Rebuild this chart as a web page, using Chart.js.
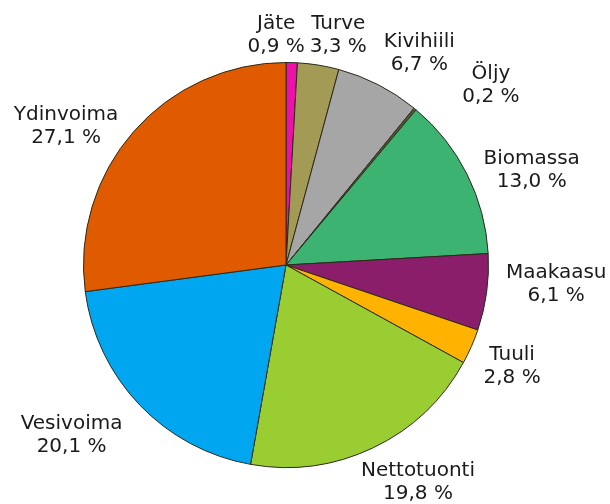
<!DOCTYPE html>
<html>
<head>
<meta charset="utf-8">
<script src="https://cdn.jsdelivr.net/npm/chart.js@4"></script>
<style>
html,body{margin:0;padding:0;background:#fff;}
#wrap{width:610px;height:504px;position:relative;}
</style>
</head>
<body>
<div id="wrap"><canvas id="c" width="610" height="504"></canvas></div>
<script>
const categories = ["Jäte","Turve","Kivihiili","Öljy","Biomassa","Maakaasu","Tuuli","Nettotuonti","Vesivoima","Ydinvoima"];
const shares = [0.9, 3.3, 6.7, 0.2, 13.0, 6.1, 2.8, 19.8, 20.1, 27.1];
const valueLabels = ["0,9 %","3,3 %","6,7 %","0,2 %","13,0 %","6,1 %","2,8 %","19,8 %","20,1 %","27,1 %"];

const sliceColors = ["#ee10a8","#a39a55","#a6a6a6","#5a5a3a","#3cb371","#8b1e6b","#ffb300","#9acd32","#00a6f0","#e05a00"];
// label nudges (layout only), in px, relative to the default radial position
const labelNudge = [[-17,23],[12,20],[18,13],[44,15],[20,19],[20,-15],[-5,0],[23,-10],[-32,-4],[-30,28]];

const labelPlugin = {
  id: 'sliceLabels',
  afterDatasetsDraw(chart) {
    const ctx = chart.ctx;
    const meta = chart.getDatasetMeta(0);
    ctx.save();
    ctx.font = '20px "DejaVu Sans"';
    ctx.fillStyle = '#1a1a1a';
    ctx.textAlign = 'center';
    ctx.textBaseline = 'middle';
    meta.data.forEach((arc, i) => {
      const p = arc.getProps(['x','y','startAngle','endAngle','outerRadius'], true);
      const mid = (p.startAngle + p.endAngle) / 2;
      const d = p.outerRadius + 50;
      const cx = p.x + Math.cos(mid) * d + labelNudge[i][0];
      const cy = p.y + Math.sin(mid) * d + labelNudge[i][1];
      ctx.fillText(categories[i], cx, cy - 11.5);
      ctx.fillText(valueLabels[i], cx, cy + 11.5);
    });
    ctx.restore();
  }
};

new Chart(document.getElementById('c'), {
  type: 'pie',
  data: {
    labels: categories,
    datasets: [{
      data: shares,
      backgroundColor: sliceColors,
      borderColor: '#2a2a1a',
      borderWidth: 1,
      hoverOffset: 0
    }]
  },
  options: {
    responsive: false,
    animation: false,
    events: [],
    layout: { padding: { left: 83, right: 121, top: 62, bottom: 36 } },
    plugins: {
      legend: { display: false },
      tooltip: { enabled: false }
    }
  },
  plugins: [labelPlugin]
});
</script>
</body>
</html>
